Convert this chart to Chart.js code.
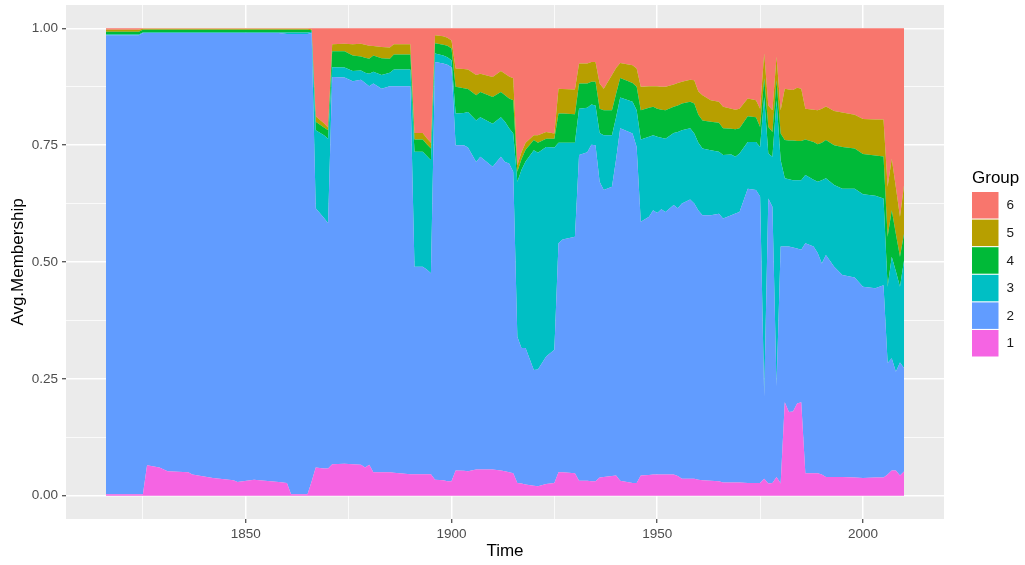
<!DOCTYPE html>
<html lang="en">
<head>
<meta charset="UTF-8" />
<title>Avg.Membership by Group</title>
<script src="https://cdn.jsdelivr.net/npm/chart.js@4.4.0/dist/chart.umd.min.js"></script>
<style>
  html, body { margin: 0; padding: 0; background: #fff; }
</style>
</head>
<body>
<canvas id="canvas" width="1025" height="565"></canvas>
<script>
// values (share of each group per year)
const years = [1816,1824,1825,1826,1829,1831,1836,1837,1842,1847,
  1848,1852,1858,1860,1861,1865,1866,1867,1869,1870,
  1871,1874,1876,1878,1879,1880,1881,1883,1885,1886,
  1890,1891,1893,1894,1895,1896,1898,1899,1900,1901,
  1903,1904,1906,1907,1910,1912,1913,1914,1915,1916,
  1917,1918,1920,1921,1923,1925,1926,1927,1930,1931,
  1933,1934,1935,1936,1937,1939,1940,1941,1944,1945,
  1946,1948,1949,1950,1951,1952,1954,1955,1956,1958,
  1959,1960,1961,1963,1965,1966,1968,1969,1970,1972,
  1974,1975,1976,1977,1978,1979,1980,1981,1982,1983,
  1984,1985,1986,1988,1989,1990,1991,1993,1995,1998,
  2000,2003,2005,2006,2007,2008,2009,2010];

const group1 = [.003,.003,.003,.065,.060,.052,.050,.045,.038,.033,
  .029,.034,.029,.027,.003,.003,.030,.060,.058,.058,
  .067,.068,.067,.066,.060,.066,.050,.050,.050,.049,
  .046,.046,.046,.046,.046,.034,.033,.031,.031,.054,
  .053,.052,.056,.056,.056,.054,.052,.050,.048,.027,
  .026,.024,.021,.020,.025,.027,.050,.050,.048,.032,
  .032,.031,.031,.039,.040,.042,.043,.032,.027,.027,
  .043,.044,.045,.045,.045,.045,.045,.042,.036,.036,
  .036,.034,.033,.032,.031,.028,.028,.028,.028,.027,
  .027,.027,.036,.026,.027,.040,.026,.200,.179,.180,
  .197,.200,.048,.048,.048,.045,.040,.040,.040,.039,
  .038,.039,.039,.045,.054,.054,.043,.052];

const group2 = [.982,.982,.987,.925,.930,.938,.940,.945,.952,.957,
  .961,.956,.961,.961,.985,.985,.960,.555,.536,.525,
  .829,.827,.820,.824,.823,.810,.832,.821,.826,.827,
  .830,.444,.444,.438,.430,.894,.892,.891,.886,.696,
  .697,.693,.658,.669,.648,.671,.662,.661,.645,.313,
  .290,.292,.248,.250,.273,.285,.490,.498,.506,.697,
  .703,.720,.719,.633,.614,.619,.677,.754,.748,.719,
  .543,.553,.566,.560,.568,.562,.577,.573,.589,.598,
  .589,.576,.567,.568,.572,.565,.572,.576,.579,.630,
  .627,.613,.176,.610,.591,.194,.507,.333,.354,.351,
  .332,.326,.492,.485,.471,.452,.475,.450,.432,.428,
  .409,.405,.411,.239,.240,.211,.242,.221];

const group3 = [.002,.002,.001,.001,.001,.001,.001,.001,.001,.001,
  .001,.001,.001,.003,.003,.003,.003,.167,.177,.181,
  .021,.021,.022,.020,.022,.027,.025,.029,.029,.036,
  .036,.246,.246,.243,.242,.018,.017,.016,.015,.068,
  .069,.076,.089,.085,.092,.085,.086,.075,.082,.332,
  .381,.399,.470,.464,.448,.433,.215,.207,.201,.099,
  .095,.086,.085,.104,.117,.110,.090,.066,.068,.079,
  .176,.171,.160,.163,.153,.157,.154,.163,.157,.152,
  .150,.145,.143,.139,.133,.136,.130,.121,.125,.100,
  .103,.106,.641,.096,.107,.612,.185,.146,.144,.144,
  .146,.149,.146,.143,.153,.178,.164,.175,.185,.190,
  .198,.198,.186,.163,.217,.215,.162,.231];

const group4 = [.006,.006,.006,.006,.006,.006,.006,.006,.006,.006,
  .006,.006,.006,.006,.006,.006,.003,.018,.017,.018,
  .034,.035,.033,.030,.032,.032,.035,.036,.030,.032,
  .032,.026,.026,.025,.025,.022,.023,.025,.025,.057,
  .053,.049,.054,.054,.057,.054,.057,.064,.071,.021,
  .023,.025,.022,.021,.018,.019,.063,.063,.061,.054,
  .052,.049,.051,.052,.054,.054,.050,.042,.040,.050,
  .063,.062,.061,.060,.060,.061,.056,.057,.057,.057,
  .064,.060,.060,.061,.062,.057,.055,.059,.054,.055,
  .053,.043,.040,.057,.053,.043,.057,.082,.083,.085,
  .084,.084,.076,.081,.080,.080,.082,.085,.089,.086,
  .086,.086,.090,.107,.100,.080,.064,.057];

const group5 = [.004,.004,.002,.002,.002,.002,.002,.002,.002,.002,
  .002,.002,.002,.002,.002,.002,.002,.012,.009,.006,
  .015,.016,.024,.027,.028,.028,.020,.024,.024,.022,
  .022,.014,.014,.013,.012,.017,.018,.017,.017,.039,
  .041,.042,.043,.039,.043,.045,.046,.047,.047,.014,
  .015,.015,.010,.016,.014,.011,.053,.052,.053,.043,
  .043,.042,.042,.054,.046,.075,.055,.032,.038,.039,
  .050,.046,.044,.048,.049,.050,.048,.048,.047,.047,
  .050,.050,.054,.046,.045,.046,.043,.042,.042,.038,
  .036,.039,.053,.046,.047,.050,.050,.110,.109,.108,
  .114,.112,.066,.069,.073,.073,.072,.073,.074,.072,
  .075,.077,.079,.107,.110,.100,.086,.104];

const group6 = [.003,.003,.001,.001,.001,.001,.001,.001,.001,.001,
  .001,.001,.001,.001,.001,.001,.002,.188,.203,.212,
  .034,.033,.034,.033,.035,.037,.038,.040,.041,.034,
  .034,.224,.224,.235,.245,.015,.017,.020,.026,.086,
  .087,.088,.100,.097,.104,.091,.097,.103,.107,.293,
  .265,.245,.229,.229,.222,.225,.129,.130,.131,.075,
  .075,.072,.072,.118,.129,.100,.085,.074,.079,.086,
  .125,.124,.124,.124,.125,.125,.120,.117,.114,.110,
  .111,.135,.143,.154,.157,.168,.172,.174,.172,.150,
  .154,.172,.054,.165,.175,.061,.175,.129,.131,.132,
  .127,.129,.172,.174,.175,.172,.167,.177,.180,.185,
  .194,.195,.195,.339,.279,.340,.403,.335];

const groupNames = ['1', '2', '3', '4', '5', '6'];
const groupColors = ['#F564E3', '#619CFF', '#00BFC4', '#00BA38', '#B79F00', '#F8766D'];

const xTicks = [1825, 1850, 1875, 1900, 1925, 1950, 1975, 2000];
const xLabelled = [1850, 1900, 1950, 2000];
const yTicks = [0, 0.125, 0.25, 0.375, 0.5, 0.625, 0.75, 0.875, 1];
const yLabelled = [0, 0.25, 0.5, 0.75, 1];

Chart.defaults.font.family = '"Liberation Sans", Arial, sans-serif';

// grey ggplot panel behind the areas
const panelBackground = {
    id: 'panelBackground',
    beforeDraw(chart) {
        const {ctx, chartArea: a} = chart;
        ctx.save();
        ctx.fillStyle = '#EBEBEB';
        ctx.fillRect(a.left, a.top, a.right - a.left, a.bottom - a.top);
        ctx.restore();
    }
};

// ggplot style legend: title, then square keys with 6 at the top
const groupLegend = {
    id: 'groupLegend',
    afterDraw(chart) {
        const {ctx, chartArea: a} = chart;
        const ds = chart.data.datasets;
        const left = a.right + 28;
        const key = 26.5;
        const step = 27.6;
        const mid = (a.top + a.bottom) / 2;
        const top = mid - 70;
        ctx.save();
        ctx.textBaseline = 'middle';
        ctx.fillStyle = '#000';
        ctx.font = '17px "Liberation Sans", Arial, sans-serif';
        ctx.fillText('Group', left, top - 14);
        ctx.font = '13.5px "Liberation Sans", Arial, sans-serif';
        for (let k = 0; k < ds.length; k++) {
            const d = ds[ds.length - 1 - k];
            const y = top + k * step;
            ctx.fillStyle = d.backgroundColor;
            ctx.fillRect(left, y, key, key);
            ctx.fillStyle = '#1A1A1A';
            ctx.fillText(d.label, left + key + 8, y + key / 2 + 0.5);
        }
        ctx.restore();
    }
};

const seriesList = [group1, group2, group3, group4, group5, group6];
const datasets = seriesList.map((values, i) => ({
    label: groupNames[i],
    data: values,
    backgroundColor: groupColors[i],
    borderColor: 'rgba(0,0,0,0)',
    borderWidth: 0,
    pointRadius: 0,
    tension: 0,
    fill: i === 0 ? 'origin' : '-1'
}));

const isIn = (list, v) => list.some(t => Math.abs(t - v) < 1e-9);

const chart1 = new Chart(document.getElementById('canvas'), {
    type: 'line',
    data: { labels: years, datasets: datasets },
    plugins: [panelBackground, groupLegend],
    options: {
        responsive: false,
        animation: false,
        devicePixelRatio: 1,
        layout: { padding: { top: 5, right: 81, left: 0, bottom: 0 } },
        plugins: {
            legend: { display: false },
            tooltip: { enabled: false }
        },
        scales: {
            x: {
                type: 'linear',
                min: 1806.3,
                max: 2019.7,
                afterBuildTicks: axis => { axis.ticks = xTicks.map(v => ({ value: v })); },
                afterFit: axis => {
                    axis.height = 46;
                    axis.paddingLeft = 0;
                    axis.paddingRight = 0;
                },
                ticks: {
                    autoSkip: false,
                    maxRotation: 0,
                    padding: 3,
                    color: '#4D4D4D',
                    font: { size: 13.5 },
                    callback: v => isIn(xLabelled, v) ? String(v) : ''
                },
                grid: {
                    color: '#FFFFFF',
                    lineWidth: c => isIn(xLabelled, c.tick.value) ? 1.5 : 0.75,
                    drawTicks: true,
                    tickLength: 4,
                    tickWidth: 1.1,
                    tickColor: c => isIn(xLabelled, c.tick.value) ? '#333333' : 'rgba(0,0,0,0)'
                },
                border: { display: false },
                title: {
                    display: true,
                    text: 'Time',
                    color: '#000',
                    font: { size: 17 },
                    padding: { top: 0, bottom: 3 }
                }
            },
            y: {
                stacked: true,
                min: -0.05,
                max: 1.05,
                afterBuildTicks: axis => { axis.ticks = yTicks.map(v => ({ value: v })); },
                afterFit: axis => {
                    axis.width = 66;
                    axis.paddingTop = 0;
                    axis.paddingBottom = 0;
                },
                ticks: {
                    autoSkip: false,
                    padding: 4,
                    color: '#4D4D4D',
                    font: { size: 13.5 },
                    callback: v => isIn(yLabelled, v) ? v.toFixed(2) : ''
                },
                grid: {
                    color: '#FFFFFF',
                    lineWidth: c => isIn(yLabelled, c.tick.value) ? 1.5 : 0.75,
                    drawTicks: true,
                    tickLength: 4,
                    tickWidth: 1.1,
                    tickColor: c => isIn(yLabelled, c.tick.value) ? '#333333' : 'rgba(0,0,0,0)'
                },
                border: { display: false },
                title: {
                    display: true,
                    text: 'Avg.Membership',
                    color: '#000',
                    font: { size: 17 },
                    padding: { top: 8, bottom: 0 }
                }
            }
        }
    }
});
</script>
</body>
</html>
